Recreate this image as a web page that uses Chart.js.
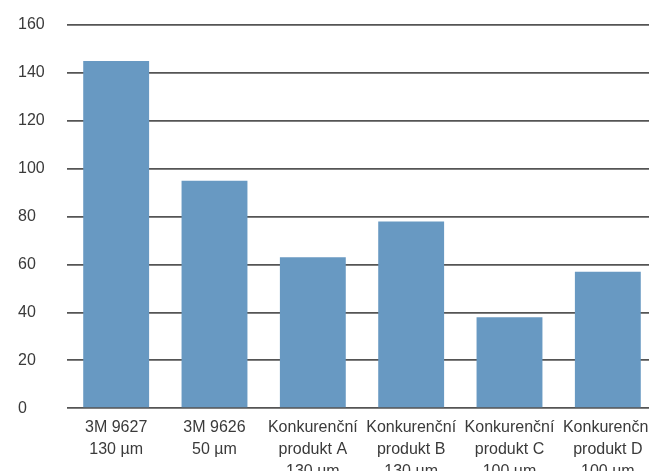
<!DOCTYPE html>
<html>
<head>
<meta charset="utf-8">
<script src="https://cdn.jsdelivr.net/npm/chart.js@4"></script>
<style>
    html, body { margin: 0; padding: 0; background: #fff; overflow: hidden; }
    #wrap { position: absolute; left: 0; top: 0; width: 664px; height: 483px; }
</style>
</head>
<body>
<div id="wrap"><canvas id="barChart"></canvas></div>
<script>
// Datos del gráfico
const categories = [
    ['3M 9627', '130 µm'],
    ['3M 9626', '50 µm'],
    ['Konkurenční', 'produkt A', '130 µm'],
    ['Konkurenční', 'produkt B', '130 µm'],
    ['Konkurenční', 'produkt C', '100 µm'],
    ['Konkurenční', 'produkt D', '100 µm']
];
const values = [145, 95, 63, 78, 38, 57];
const yTicks = [0, 20, 40, 60, 80, 100, 120, 140, 160];

const barColor = '#6899c2';
const textColor = '#3a3a3a';

Chart.defaults.font.family = "'Liberation Sans', Arial, sans-serif";
Chart.defaults.font.size = 16;
Chart.defaults.color = textColor;

const ctx = document.getElementById('barChart').getContext('2d');
new Chart(ctx, {
    type: 'bar',
    data: {
        labels: categories,
        datasets: [{
            data: values,
            backgroundColor: barColor,
            borderWidth: 0,
            categoryPercentage: 1,
            barPercentage: 0.67
        }]
    },
    options: {
        responsive: true,
        maintainAspectRatio: false,
        animation: false,
        layout: { padding: { left: 18, top: 25, right: 7, bottom: 0 } },
        plugins: { legend: { display: false }, tooltip: { enabled: false } },
        scales: {
            x: {
                grid: { display: false },
                border: { display: false },
                ticks: { maxRotation: 0, autoSkip: false, padding: 1, font: { lineHeight: 1.35 } }
            },
            y: {
                min: 0,
                max: 160,
                afterBuildTicks: (axis) => { axis.ticks = yTicks.map(v => ({ value: v })); },
                afterFit: (axis) => { axis.width = 49; },
                grid: { color: '#555555', lineWidth: 1.7, drawTicks: false },
                border: { display: false },
                ticks: { padding: 4, crossAlign: 'far' }
            }
        }
    }
});
</script>
</body>
</html>
